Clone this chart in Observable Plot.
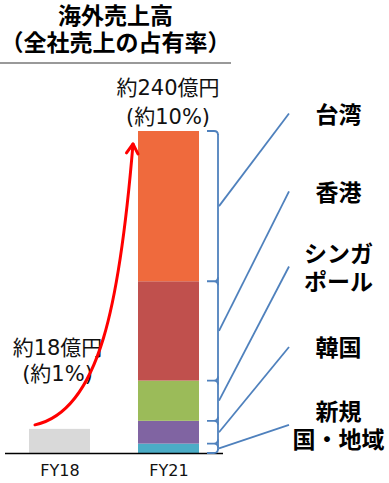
<!DOCTYPE html>
<html><head><meta charset="utf-8">
<script src="https://cdn.jsdelivr.net/npm/d3@7"></script>
<script src="https://cdn.jsdelivr.net/npm/@observablehq/plot@0.6"></script>
<style>
body{margin:0;background:#fff;}
#title{width:231px;text-align:center;font-family:"Noto Sans CJK JP",sans-serif;font-weight:700;font-size:23px;line-height:27px;padding-top:1px;padding-bottom:7px;border-bottom:2px solid #999;margin-bottom:2px;color:#000;}
</style></head><body>
<div id="title">海外売上高<br>（全社売上の占有率）</div>
<div id="chart"></div>
<script>
// ---- data ----
const years = ["FY18", "FY21"];
const fy18Total = 18;                                   // 億円
const regions = ["新規国・地域", "韓国", "シンガポール", "香港", "台湾"]; // bottom → top
const fy21Values = [7, 17, 30, 74, 112];                // 億円 (≈240 total)
const regionLabels = ["新規\n国・地域", "韓国", "シンガ\nポール", "香港", "台湾"];
const totalLabels = ["約18億円\n(約1%)", "約240億円\n(約10%)"];
const regionColors = ["#4BACC6", "#8064A2", "#9BBB59", "#C0504D", "#EF6A3D"];
const fy18Color = "#D9D9D9";
// layout: where each region's leader line ends (in 億円 units of the y scale)
const labelAnchorY = [21, 79, 139, 195, 253];

// ---- derived table ----
const rows = [{year: "FY18", region: "FY18", value: fy18Total}]
  .concat(regions.map((r, i) => ({year: "FY21", region: r, value: fy21Values[i]})));
const fy21Total = d3.sum(fy21Values);
const totals = [fy18Total, fy21Total];

function growthArrow(index, {x, y}) {
  const x0 = x("FY18") + 6, y0 = y(fy18Total) - 4;
  const x3 = x("FY21") - 5, y3 = y(fy21Total) + 13;
  const dx = x3 - x0, dy = y3 - y0;
  const p1 = [x0 + 0.663 * dx, y0 + 0.05 * dy];
  const p2 = [x0 + 0.867 * dx, y0 + 0.441 * dy];
  const g = d3.create("svg:g").attr("fill", "none").attr("stroke", "#FF0000")
    .attr("stroke-width", 3).attr("stroke-linecap", "round").attr("stroke-linejoin", "round");
  g.append("path").attr("d", `M${x0},${y0}C${p1[0]},${p1[1]} ${p2[0]},${p2[1]} ${x3},${y3}`);
  let tx = x3 - p2[0], ty = y3 - p2[1];
  const L = Math.hypot(tx, ty); tx /= L; ty /= L;
  const bx = -tx, by = -ty, a = 0.55, len = 11;
  const r = (s) => [x3 + len * (bx * Math.cos(s * a) - by * Math.sin(s * a)), y3 + len * (bx * Math.sin(s * a) + by * Math.cos(s * a))];
  const l1 = r(1), l2 = r(-1);
  g.append("path").attr("d", `M${l1[0]},${l1[1]}L${x3},${y3}L${l2[0]},${l2[1]}`);
  return g.node();
}

function braces(index, {x, y}) {
  const bw = x.bandwidth();
  const bx = x("FY21") + bw + 19;
  const edges = [0, ...d3.cumsum(fy21Values)];
  const g = d3.create("svg:g").attr("fill", "none").attr("stroke", "#4F81BD").attr("stroke-width", 1.8);
  g.append("path").attr("d", `M${bx},${y(fy21Total) + 3}V${y(0) - 3}`);
  edges.forEach((e, i) => {
    const yy = y(e);
    if (i === edges.length - 1) {
      g.append("path").attr("d", `M${bx - 11},${yy}H${bx - 4}Q${bx},${yy} ${bx},${yy + 4}`);
    } else if (i === 0) {
      g.append("path").attr("d", `M${bx - 11},${yy}H${bx - 4}Q${bx},${yy} ${bx},${yy - 4}`);
    } else {
      g.append("path").attr("d", `M${bx},${yy - 4}Q${bx},${yy} ${bx - 4},${yy}H${bx - 11}M${bx - 4},${yy}Q${bx},${yy} ${bx},${yy + 4}`);
    }
  });
  fy21Values.forEach((v, i) => {
    const mid = y((edges[i] + edges[i + 1]) / 2);
    g.append("line").attr("x1", bx + 1).attr("y1", mid)
      .attr("x2", bx + 71).attr("y2", y(labelAnchorY[i]));
  });
  return g.node();
}

const chart = Plot.plot({
  width: 389,
  height: 417,
  marginLeft: 5,
  marginRight: 166,
  marginTop: 65,
  marginBottom: 30,
  style: {fontFamily: "'DejaVu Sans', 'Noto Sans CJK JP', sans-serif", background: "#fff", overflow: "visible", color: "#000"},
  x: {type: "band", domain: years, paddingInner: 0.44, paddingOuter: 0.22, axis: null},
  y: {domain: [0, 240], axis: null},
  color: {domain: ["FY18", ...regions], range: [fy18Color, ...regionColors]},
  marks: [
    Plot.barY(rows, {x: "year", y: "value", fill: "region"}),
    Plot.ruleY([0], {stroke: "#000", strokeWidth: 1.5}),
    Plot.axisX({tickSize: 0, tickPadding: 11, fontSize: 16, label: null, fill: "#111"}),
    Plot.text([0], {x: () => years[0], y: () => totals[0], text: () => totalLabels[0],
      fontSize: 21, lineHeight: 1.24, lineAnchor: "middle", dy: -70, dx: -2.5, fill: "#111"}),
    Plot.text([1], {x: () => years[1], y: () => totals[1], text: () => totalLabels[1],
      fontSize: 21, lineHeight: 1.38, lineAnchor: "middle", dy: -31, dx: -1, fill: "#111"}),
    growthArrow,
    braces,
    Plot.text(regionLabels, {x: () => "FY21", y: (d, i) => labelAnchorY[i], text: (d) => d,
      fontSize: 23, fontWeight: 700, lineHeight: 1.22, lineAnchor: "middle", dx: 169.5,
      fontFamily: "'Noto Sans CJK JP', sans-serif", fill: "#000"})
  ]
});
document.getElementById("chart").append(chart);
</script>
</body></html>
